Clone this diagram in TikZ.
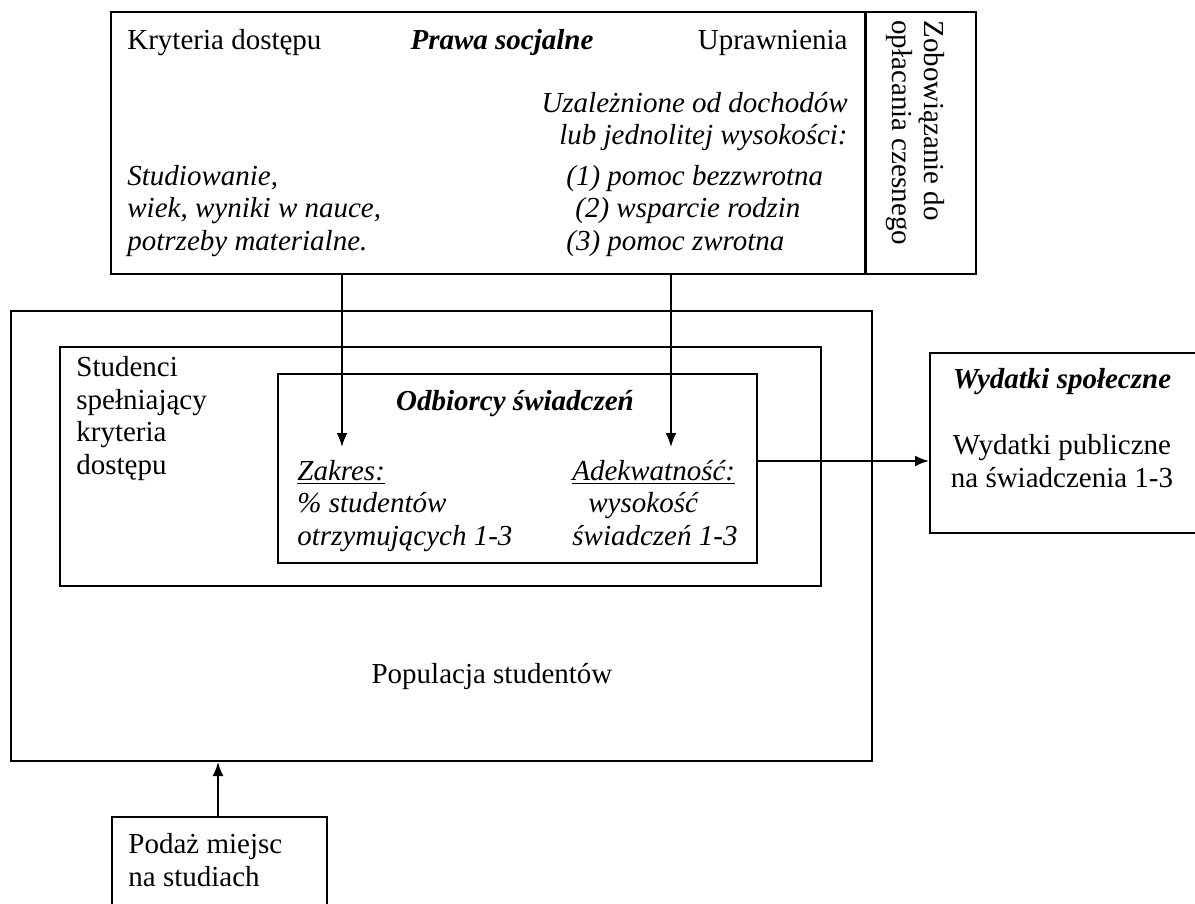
\documentclass[tikz,border=0pt]{standalone}
\usepackage{fontspec}
\setmainfont{Liberation Serif}
\usetikzlibrary{arrows.meta, fit, positioning}

\newcommand{\rozm}{\fontsize{14.5}{16.25}\selectfont}

\tikzset{
	box/.style={draw, line width=1pt, inner sep=0pt},
	tekst/.style={font=\rozm, inner sep=0pt},
	kursywa/.style={font=\rozm\itshape, inner sep=0pt},
	tytul/.style={font=\rozm\bfseries\itshape, inner sep=0pt},
	strzalka/.style={-{Latex[length=7pt, width=5.5pt]}, line width=1pt}
}

\begin{document}
\begin{tikzpicture}[x=0.5pt, y=-0.5pt]
		\useasboundingbox (0,0) rectangle (1195,904);
		\clip (0,0) rectangle (1195,904);
	
		% ramki
		\coordinate (prawaNW) at (111,12);
		\coordinate (prawaSE) at (976,274);
		\coordinate (dzielnik) at (865,12);
		\node[box, fit=(prawaNW)(prawaSE)] (prawa) {};
		\draw[line width=1.5pt] (prawa.north -| dzielnik) -- (prawa.south -| dzielnik);
	
		\coordinate (popNW) at (11,311);
		\coordinate (popSE) at (872,761);
		\node[box, fit=(popNW)(popSE)] (populacja) {};
	
		\coordinate (kryNW) at (60,347);
		\coordinate (krySE) at (821,586);
		\node[box, fit=(kryNW)(krySE)] (spelniajacy) {};
	
		\coordinate (odbNW) at (278,374);
		\coordinate (odbSE) at (757,563);
		\node[box, fit=(odbNW)(odbSE)] (odbiorcy) {};
	
		\coordinate (wydNW) at (930,353);
		\coordinate (wydSE) at (1200,533);
		\node[box, fit=(wydNW)(wydSE)] (wydatki) {};
	
		\coordinate (podNW) at (112,817);
		\coordinate (podSE) at (327,912);
		\node[box, fit=(podNW)(podSE)] (podaz) {};
	
		% prawa socjalne (wielowierszowe: baza = ostatni wiersz)
		\node[tekst, anchor=base west] (kryteria) at (127,50) {Kryteria dostępu};
		\node[tytul, anchor=base] (prawaT) at (502,50) {Prawa socjalne};
		\node[tekst, anchor=base east] (uprawnienia) at (848,50) {Uprawnienia};
		\node[kursywa, anchor=base west, align=left] (warunki) at (127,250) {Studiowanie,\\wiek, wyniki w nauce,\\potrzeby materialne.};
		\node[kursywa, anchor=base east, align=right] (rodzaje) at (848,145) {Uzależnione od dochodów\\lub jednolitej wysokości:};
		\node[kursywa, anchor=base west, align=left] (pomoc) at (566,250) {(1) pomoc bezzwrotna\\\hspace*{4.5pt}(2) wsparcie rodzin\\(3) pomoc zwrotna};
		\node[tekst, rotate=-90, anchor=base west, align=left] (czesne) at (892,20) {Zobowiązanie do\\opłacania czesnego};
	
		% populacja
		\node[tekst, anchor=base west, align=left] (studenci) at (76,474) {Studenci\\spełniający\\kryteria\\dostępu};
		\node[tytul, anchor=base] (odbiorcyT) at (515,410) {Odbiorcy świadczeń};
		\node[kursywa, anchor=base west, align=left] (zakres) at (297,545) {\underline{Zakres:}\\\% studentów\\otrzymujących 1-3};
		\node[kursywa, anchor=base west, align=left] (adekwatnosc) at (572,545) {\underline{Adekwatność:}\\\hspace*{8pt}wysokość\\świadczeń 1-3};
		\node[tekst, anchor=base] (populacjaT) at (492,683) {Populacja studentów};
	
		\node[tytul, anchor=base] (wydatkiT) at (1062,388) {Wydatki społeczne};
		\node[tekst, anchor=base, align=center] (publiczne) at (1062,487) {Wydatki publiczne\\na świadczenia 1-3};
		\node[tekst, anchor=base west, align=left] (podazT) at (128,886) {Podaż miejsc\\na studiach};
	
		% strzalki
		\coordinate (grotZ) at (342,447);
		\coordinate (grotA) at (671,447);
		\coordinate (wyjscie) at (757,461);
		\coordinate (wejscie) at (218,817);
	
		\begin{scope}[strzalka]
			\draw (prawa.south -| grotZ) -- (grotZ);
			\draw (prawa.south -| grotA) -- (grotA);
			\draw (wyjscie) -- (wyjscie -| wydatki.west);
			\draw (wejscie) -- (wejscie |- populacja.south);
		\end{scope}
	\end{tikzpicture}
\end{document}
